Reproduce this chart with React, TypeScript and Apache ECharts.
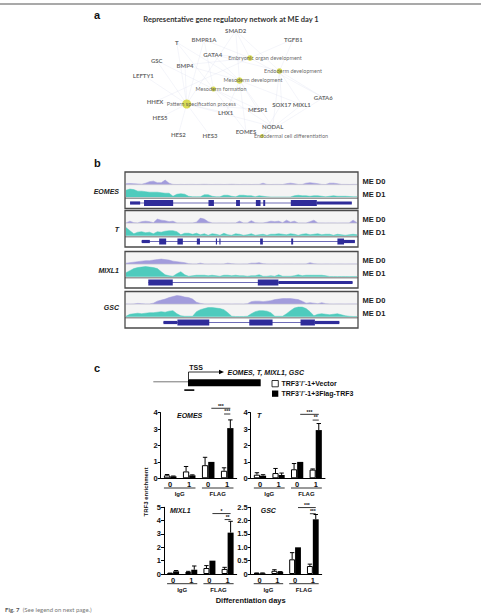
import React, { useEffect, useRef } from "react";
import * as echarts from "echarts";

const ARIAL = "'Liberation Sans', Arial, sans-serif";
const SOFT = "Lato, 'Open Sans', sans-serif";

// ---------- Panel a: gene regulatory network ----------
const networkTitle = "Representative gene regulatory network at ME day 1";
const genes = ["SMAD2", "BMPR1A", "T", "TGFB1", "GATA4", "GSC", "BMP4", "LEFTY1", "HHEX", "GATA6", "SOX17", "MIXL1", "MESP1", "LHX1", "HES5", "NODAL", "HES2", "HES3", "EOMES"];
const geneLayout = [[235.7, 30.7], [204, 39.7], [176.7, 42.3], [293.3, 39], [212.7, 54.3], [156.7, 60.7], [185, 65], [143.3, 75], [155, 101.7], [323.3, 97.7], [281.7, 104], [301.7, 104.7], [257.7, 109.3], [225.7, 112.7], [160, 117.7], [272.7, 126.7], [178.3, 134.7], [210, 135.7], [246, 131.5]];
const terms = ["Embryonic organ development", "Endoderm development", "Mesoderm development", "Mesoderm formation", "Pattern specification process", "Endodermal cell differentiation"];
const termLabelLayout = [[265, 58.3], [293, 70.7], [253, 80.3], [221, 89.3], [201.3, 103.7], [291, 135.7]];
const termHubLayout = [[250, 58], [279.5, 71], [239.5, 80.5], [213.5, 89], [186.7, 104], [262, 136]];
const termGeneCount = [7, 7, 9, 6, 14, 4];
const networkEdges: [string, number][] = [
  ["SMAD2", 0], ["SMAD2", 1], ["SMAD2", 2], ["SMAD2", 4],
  ["BMPR1A", 0], ["BMPR1A", 3], ["BMPR1A", 4],
  ["T", 2], ["T", 3], ["T", 4],
  ["TGFB1", 0], ["TGFB1", 1],
  ["GATA4", 0], ["GATA4", 1], ["GATA4", 2],
  ["GSC", 3], ["GSC", 4],
  ["BMP4", 0], ["BMP4", 2], ["BMP4", 4],
  ["LEFTY1", 4], ["HHEX", 0], ["HHEX", 4],
  ["GATA6", 0], ["GATA6", 1], ["GATA6", 5],
  ["SOX17", 1], ["SOX17", 5],
  ["MIXL1", 1], ["MIXL1", 2], ["MIXL1", 5],
  ["MESP1", 2], ["MESP1", 3], ["MESP1", 4],
  ["LHX1", 2], ["LHX1", 4],
  ["HES5", 4], ["NODAL", 1], ["NODAL", 2], ["NODAL", 3], ["NODAL", 4],
  ["HES2", 4], ["HES3", 4],
  ["EOMES", 2], ["EOMES", 3], ["EOMES", 5],
];

// ---------- Panel b: coverage tracks (60 bins across each locus) ----------
const trackGenes = ["EOMES", "T", "MIXL1", "GSC"];
const eomesD0 = [1, 1.2, 1, 0.8, 0.5, 1.5, 3, 3.5, 2, 2, 4.5, 1.5, 0.3, 0.2, 0.3, 0.2, 0.3, 0.3, 0.2, 0.3, 0.4, 0.3, 0.2, 0.3, 0.3, 0.2, 0.3, 0.4, 0.3, 0.2, 0.3, 0.3, 0.2, 0.3, 0.3, 1.5, 0.3, 0.2, 0.3, 0.3, 0.2, 1, 1.5, 1, 0.3, 0.3, 1.5, 2, 1.5, 1, 0.3, 0.2, 1.5, 1.5, 1, 0.3, 0.3, 0.2, 0.3, 0.3];
const eomesD1 = [7, 8, 7.5, 6, 6, 5.5, 5, 5, 5, 4.5, 4, 4, 1, 3, 3.5, 3, 1, 0.5, 0.5, 0.5, 2.5, 2.5, 1, 0.5, 0.5, 2, 2, 1, 0.5, 2, 2, 1.5, 1.5, 0.5, 1.5, 1, 0.5, 0.3, 0.3, 0.3, 0.3, 0.3, 0.3, 1.5, 2, 1.5, 1.5, 1, 1.5, 1.5, 1, 0.5, 1, 1.5, 1, 1, 1, 0.8, 0.5, 0.5];
const tD0 = [0.3, 2, 0.5, 0.3, 1.5, 2, 1.5, 0.5, 4, 3, 2.5, 1.5, 2, 0.3, 0.3, 0.2, 0.3, 0.3, 1, 5, 4, 1.5, 0.3, 0.2, 0.3, 0.3, 0.2, 0.3, 0.3, 2, 0.3, 0.3, 2.5, 0.5, 0.3, 0.3, 1, 2, 1.5, 2, 0.5, 3, 1, 2, 0.3, 0.3, 0.2, 1.5, 3, 0.3, 0.3, 0.2, 0.3, 0.3, 0.2, 0.3, 0.3, 0.3, 3, 0.5];
const tD1 = [8, 5, 2, 3.5, 4, 3, 3.5, 2, 4, 3.5, 4.5, 5, 5, 4, 1, 2.5, 2.5, 1.5, 2.5, 1, 2, 0.5, 2, 1.5, 0.5, 2.5, 1, 0.5, 2, 1.5, 0.5, 1, 2, 0.5, 1, 1.5, 0.5, 1.5, 1.5, 2, 1.5, 1, 2, 1.5, 0.5, 1.5, 2, 1, 1.5, 2, 1, 1.5, 1.5, 0.5, 1.5, 1, 0.5, 1, 1.5, 1];
const mixl1D0 = [1, 1.5, 2, 2.5, 3, 3.5, 3.5, 4, 4.5, 5, 4.5, 4, 3, 2.5, 2, 1.5, 0.5, 0.3, 0.3, 1, 0.3, 0.2, 0.3, 0.3, 0.2, 0.3, 1, 0.5, 0.3, 0.2, 0.3, 0.3, 1, 1, 1.5, 0.5, 0.3, 0.2, 0.3, 0.3, 0.2, 0.3, 0.3, 0.2, 0.3, 0.3, 0.3, 1.5, 0.5, 0.3, 0.2, 0.3, 0.3, 0.2, 0.3, 0.3, 0.2, 0.3, 0.3, 0.3];
const mixl1D1 = [4, 6, 8, 9, 9.5, 10, 9.5, 9, 8, 5, 2, 1, 0.5, 3, 5, 2, 0.5, 1, 1.5, 1.5, 1.5, 1, 1.5, 1, 0.5, 1.5, 1.5, 1, 1.5, 1, 1, 0.5, 1, 1, 2, 0.5, 0.5, 1, 0.5, 2, 0.5, 0.5, 0.5, 1, 2, 1, 1.5, 1.5, 1.5, 1.5, 1.5, 1, 0.3, 0.3, 0.2, 0.3, 0.3, 0.2, 0.3, 0.3];
const gscD0 = [0.3, 0.2, 0.3, 0.8, 0.5, 0.3, 0.3, 1, 3, 4, 5, 6.5, 7.5, 8.5, 8, 7, 6.5, 5, 2, 0.8, 0.3, 0.2, 0.3, 0.3, 0.2, 0.3, 0.3, 0.2, 0.3, 0.3, 0.2, 0.5, 2.5, 3, 3, 2.5, 3, 3.5, 4.5, 5, 5.5, 5.5, 5.5, 5, 4.5, 3, 1, 1.5, 1, 0.5, 1.5, 0.5, 0.3, 0.2, 0.3, 0.3, 0.2, 0.3, 0.3, 0.3];
const gscD1 = [0.5, 2.5, 3, 3.5, 3, 3.5, 4, 4, 4.5, 5, 4.5, 5.5, 6, 3, 1, 0.5, 0.5, 0.5, 5, 7, 8, 9, 9, 8.5, 8, 7, 4, 0.5, 0.3, 0.3, 0.3, 0.5, 3, 5, 6, 6, 5.5, 4, 0.5, 0.5, 0.5, 3, 6, 8.5, 9.5, 9.5, 8, 5, 1, 2.5, 3, 2.5, 2, 2.5, 3, 2, 1, 0.5, 0.3, 0.3];

// Gene models in bin units: [start, end, kind] (0 = intron span, 1 = UTR, 2 = coding exon)
const eomesModel = [[1.3, 58.4, 0], [1.3, 3.9, 1], [4.9, 12.4, 2], [21.5, 22.9, 2], [28.6, 29.6, 2], [33.7, 34.9, 2], [35.6, 36.1, 2], [42.7, 49.4, 2], [49.4, 58.4, 1]];
const tModel = [[4.3, 59.2, 0], [4.3, 6.4, 1], [8.8, 10.6, 2], [13.5, 14.9, 2], [18.5, 19.3, 2], [23.4, 23.7, 2], [24.3, 24.6, 2], [34.8, 35.5, 2], [42.8, 43.3, 2], [54.7, 56.4, 2], [56.4, 59.2, 1]];
const mixl1Model = [[6.0, 58.6, 0], [6.0, 12.3, 2], [34.2, 39.5, 2], [39.5, 58.6, 1]];
const gscModel = [[9.9, 55.2, 0], [9.9, 13.5, 1], [13.5, 21.7, 2], [32.0, 38.0, 2], [45.2, 48.9, 2], [48.9, 55.2, 1]];

// ---------- Panel c: ChIP-qPCR ----------
const dayLabels = ["0", "1", "0", "1"];
const antibodyGroups = ["IgG", "FLAG"];
const eomesVector = [0.18, 0.42, 0.8, 0.46];
const eomesVectorErr = [0.05, 0.3, 0.48, 0.18];
const eomesFlag = [0.12, 0.18, 1.0, 3.06];
const eomesFlagErr = [0.02, 0.03, 0, 0.5];
const tVector = [0.22, 0.32, 0.55, 0.53];
const tVectorErr = [0.12, 0.28, 0.35, 0.04];
const tFlag = [0.16, 0.2, 1.0, 2.94];
const tFlagErr = [0.06, 0.12, 0, 0.4];
const mixl1Vector = [0.05, 0.15, 0.45, 0.38];
const mixl1VectorErr = [0.02, 0.05, 0.18, 0.12];
const mixl1Flag = [0.2, 0.32, 1.0, 3.1];
const mixl1FlagErr = [0.06, 0.28, 0, 0.85];
const gscVector = [0.03, 0.12, 0.55, 0.3];
const gscVectorErr = [0.01, 0.04, 0.25, 0.07];
const gscFlag = [0.03, 0.08, 1.0, 2.05];
const gscFlagErr = [0.01, 0.01, 0, 0.18];
// significance brackets: [categoryA, barA, categoryB, barB, height]
const eomesSig = [[2, 1, 3, 1, 4.27], [3, 0, 3, 1, 3.92]];
const tSig = [[2, 1, 3, 1, 3.9], [3, 0, 3, 1, 3.55]];
const mixl1Sig = [[2, 1, 3, 1, 4.53], [3, 0, 3, 1, 4.08]];
const gscSig = [[2, 1, 3, 1, 2.49], [3, 0, 3, 1, 2.26]];
const eomesStars = ["***", "***"];
const tStars = ["***", "**"];
const mixl1Stars = ["*", "**"];
const gscStars = ["***", "***"];
const axisMax = [4, 4, 5, 2.5];
const axisStep = [1, 1, 1, 0.5];

const NAVY = "#2f2c9a";
const D0_COLOR = "#a29cdc";
const D1_COLOR = "#4fcbbd";
const INK = "#111";

function buildOption() {
  const grids: any[] = [];
  const xAxes: any[] = [];
  const yAxes: any[] = [];
  const series: any[] = [];
  const graphics: any[] = [];

  const addGrid = (g: any, x: any, y: any) => {
    const i = grids.length;
    grids.push({ ...g, containLabel: false });
    xAxes.push({ ...x, gridIndex: i });
    yAxes.push({ ...y, gridIndex: i });
    return i;
  };

  // ----- network -----
  const gn = addGrid({ left: 0, top: 0, width: 481, height: 150 },
    { type: "value", min: 0, max: 481, show: false },
    { type: "value", min: 0, max: 150, inverse: true, show: false });
  const geneIndex: Record<string, number> = {};
  genes.forEach((g, i) => (geneIndex[g] = i));
  series.push({
    type: "lines", coordinateSystem: "cartesian2d", xAxisIndex: gn, yAxisIndex: gn, silent: true,
    lineStyle: { color: "#cdd2e8", width: 0.5, opacity: 0.45 },
    data: networkEdges.map(([g, t]) => ({ coords: [geneLayout[geneIndex[g]], termHubLayout[t]] })),
  });
  series.push({
    type: "scatter", xAxisIndex: gn, yAxisIndex: gn, silent: true,
    itemStyle: { color: "#d3d63a", opacity: 0.85 },
    data: termHubLayout.map((p, i) => ({ value: p, symbolSize: 2 + termGeneCount[i] * 0.5 })),
  });
  series.push({
    type: "scatter", xAxisIndex: gn, yAxisIndex: gn, silent: true, symbolSize: 0,
    label: { show: true, position: "inside", formatter: "{b}", color: "#444", fontFamily: SOFT, fontSize: 5.5 },
    data: terms.map((t, i) => ({ name: t, value: termLabelLayout[i] })),
  });
  series.push({
    type: "scatter", xAxisIndex: gn, yAxisIndex: gn, silent: true, symbolSize: 0,
    label: { show: true, position: "inside", formatter: "{b}", color: "#444", fontFamily: SOFT, fontWeight: "bold", fontSize: 6 },
    data: genes.map((g, i) => ({ name: g, value: geneLayout[i] })),
  });

  // ----- coverage tracks -----
  const boxTops = [172, 210.5, 251.5, 291.5];
  const geneLabelY = [191, 229, 270, 307];
  const d0Tracks = [eomesD0, tD0, mixl1D0, gscD0];
  const d1Tracks = [eomesD1, tD1, mixl1D1, gscD1];
  const models = [eomesModel, tModel, mixl1Model, gscModel];
  const bins = eomesD0.map((_, i) => String(i));
  boxTops.forEach((top, k) => {
    graphics.push({ type: "rect", z: -5, shape: { x: 125, y: top, width: 233, height: 26.5 }, style: { fill: "#f4f4f4" } });
    graphics.push({ type: "line", z: 5, shape: { x1: 125, y1: top + 12.7, x2: 358, y2: top + 12.7 }, style: { stroke: "#cfcfcf", lineWidth: 0.6 } });
    graphics.push({ type: "line", z: 5, shape: { x1: 125, y1: top + 26.3, x2: 358, y2: top + 26.3 }, style: { stroke: "#9c9c9c", lineWidth: 1.6 } });
    graphics.push({ type: "rect", z: 6, shape: { x: 125, y: top, width: 233, height: 36.5 }, style: { fill: "none", stroke: "#4a4a4a", lineWidth: 1.3 } });
    graphics.push({ type: "text", style: { x: 119, y: geneLabelY[k], text: trackGenes[k], align: "right", verticalAlign: "middle", font: `italic bold 7px ${ARIAL}`, fill: "#222" } });
    graphics.push({ type: "text", style: { x: 362.5, y: top + 9.2, text: "ME D0", verticalAlign: "middle", font: `bold 7.5px ${ARIAL}`, fill: "#222" } });
    graphics.push({ type: "text", style: { x: 362.5, y: top + 22, text: "ME D1", verticalAlign: "middle", font: `bold 7.5px ${ARIAL}`, fill: "#222" } });

    const lanes: [number[], number, number, number, string][] = [
      [d0Tracks[k], top + 2.5, 10.2, 10, D0_COLOR],
      [d1Tracks[k], top + 13, 12.3, 12, D1_COLOR],
    ];
    lanes.forEach(([vals, gTop, gH, max, color]) => {
      const gi = addGrid({ left: 126, width: 231, top: gTop, height: gH },
        { type: "category", data: bins, boundaryGap: false, show: false },
        { type: "value", min: 0, max, show: false });
      series.push({
        type: "line", xAxisIndex: gi, yAxisIndex: gi, data: vals, symbol: "none", silent: true,
        lineStyle: { color, width: 0.5 }, areaStyle: { color, opacity: 1 },
      });
    });
    const mg = addGrid({ left: 125, width: 233, top: top + 27.5, height: 7 },
      { type: "value", min: 0, max: 60, show: false },
      { type: "value", min: -1, max: 1, show: false });
    series.push({
      type: "custom", xAxisIndex: mg, yAxisIndex: mg, silent: true, clip: false, data: models[k],
      itemStyle: { color: NAVY },
      renderItem: (_p: any, api: any) => {
        const a = api.coord([api.value(0), 0]);
        const b = api.coord([api.value(1), 0]);
        const kind = api.value(2);
        if (kind === 0) {
          return { type: "line", shape: { x1: a[0], y1: a[1], x2: b[0], y2: b[1] }, style: { stroke: NAVY, lineWidth: 0.7 } };
        }
        const h = kind === 2 ? 6 : 3.2;
        return { type: "rect", shape: { x: a[0], y: a[1] - h / 2, width: b[0] - a[0], height: h }, style: { fill: NAVY } };
      },
    });
  });

  // ----- ChIP-qPCR bar charts -----
  const boxes = [
    { left: 160.7, top: 412.7, width: 76, height: 65.6 },
    { left: 250.7, top: 412.7, width: 74.3, height: 65.6 },
    { left: 164, top: 507.3, width: 72.7, height: 66.7 },
    { left: 250.7, top: 507.3, width: 71, height: 66.7 },
  ];
  const chartNames = ["EOMES", "T", "MIXL1", "GSC"];
  const nameLeft = [177, 257, 170, 260.7];
  const vectors = [eomesVector, tVector, mixl1Vector, gscVector];
  const vectorErrs = [eomesVectorErr, tVectorErr, mixl1VectorErr, gscVectorErr];
  const flags = [eomesFlag, tFlag, mixl1Flag, gscFlag];
  const flagErrs = [eomesFlagErr, tFlagErr, mixl1FlagErr, gscFlagErr];
  const sigs = [eomesSig, tSig, mixl1Sig, gscSig];
  const stars = [eomesStars, tStars, mixl1Stars, gscStars];
  const half = 0.165;

  boxes.forEach((box, k) => {
    const gi = addGrid(box,
      {
        type: "category", data: dayLabels,
        axisLine: { lineStyle: { color: "#000", width: 1 } }, axisTick: { show: false },
        axisLabel: { color: INK, fontFamily: ARIAL, fontWeight: "bold", fontSize: 7.5, margin: 2 },
      },
      {
        type: "value", min: 0, max: axisMax[k], interval: axisStep[k],
        axisLine: { show: true, lineStyle: { color: "#000", width: 1 } },
        axisTick: { show: true, length: 3, lineStyle: { color: "#000" } },
        splitLine: { show: false },
        axisLabel: {
          color: INK, fontFamily: ARIAL, fontWeight: "bold", fontSize: 7.5, margin: 3,
          formatter: (v: number) => (axisStep[k] < 1 && v !== 0 ? v.toFixed(1) : String(v)),
        },
      });
    series.push({
      type: "bar", xAxisIndex: gi, yAxisIndex: gi, data: vectors[k], barWidth: "33%", barGap: "0%", silent: true,
      itemStyle: { color: "#fff", borderColor: "#000", borderWidth: 1 },
    });
    series.push({
      type: "bar", xAxisIndex: gi, yAxisIndex: gi, data: flags[k], barWidth: "33%", barGap: "0%", silent: true,
      itemStyle: { color: "#000" },
    });
    const errData: number[][] = [];
    vectors[k].forEach((v, i) => errData.push([i, v, vectorErrs[k][i], 0]));
    flags[k].forEach((v, i) => errData.push([i, v, flagErrs[k][i], 1]));
    series.push({
      type: "custom", xAxisIndex: gi, yAxisIndex: gi, silent: true, clip: false, z: 5, data: errData,
      itemStyle: { color: "#000" },
      renderItem: (_p: any, api: any) => {
        const cat = api.value(0), v = api.value(1), e = api.value(2), side = api.value(3);
        if (!e) return { type: "group", children: [] };
        const band = api.size([1, 0])[0];
        const p0 = api.coord([cat, v]);
        const p1 = api.coord([cat, v + e]);
        const x = p0[0] + (side ? 1 : -1) * band * half;
        return {
          type: "group", children: [
            { type: "line", shape: { x1: x, y1: p0[1], x2: x, y2: p1[1] }, style: { stroke: "#000", lineWidth: 1 } },
            { type: "line", shape: { x1: x - 2.2, y1: p1[1], x2: x + 2.2, y2: p1[1] }, style: { stroke: "#000", lineWidth: 1 } },
          ],
        };
      },
    });
    // antibody group underlines
    series.push({
      type: "custom", xAxisIndex: gi, yAxisIndex: gi, silent: true, clip: false, data: [[0, 1], [2, 3]],
      itemStyle: { color: INK },
      renderItem: (p: any, api: any) => {
        const band = api.size([1, 0])[0];
        const a = api.coord([api.value(0), 0]);
        const b = api.coord([api.value(1), 0]);
        const x1 = a[0] - band * 0.33, x2 = b[0] + band * 0.33;
        return {
          type: "group", children: [
            { type: "line", shape: { x1, y1: a[1] + 9.7, x2, y2: a[1] + 9.7 }, style: { stroke: "#000", lineWidth: 0.8 } },
            { type: "text", style: { x: (x1 + x2) / 2, y: a[1] + 16, text: antibodyGroups[p.dataIndex], align: "center", verticalAlign: "middle", font: `bold 6px ${ARIAL}`, fill: INK } },
          ],
        };
      },
    });
    // significance brackets
    series.push({
      type: "custom", xAxisIndex: gi, yAxisIndex: gi, silent: true, clip: false, data: sigs[k],
      itemStyle: { color: INK },
      renderItem: (p: any, api: any) => {
        const band = api.size([1, 0])[0];
        const h = api.value(4);
        const a = api.coord([api.value(0), h]);
        const b = api.coord([api.value(2), h]);
        const x1 = a[0] + (api.value(1) ? 1 : -1) * band * half;
        const x2 = b[0] + (api.value(3) ? 1 : -1) * band * half;
        return {
          type: "group", children: [
            { type: "line", shape: { x1, y1: a[1], x2, y2: a[1] }, style: { stroke: "#000", lineWidth: 0.8 } },
            { type: "text", style: { x: (x1 + x2) / 2, y: a[1] - 2.6, text: stars[k][p.dataIndex], align: "center", verticalAlign: "middle", font: `bold 5px ${ARIAL}`, fill: INK } },
          ],
        };
      },
    });
    graphics.push({ type: "text", style: { x: nameLeft[k], y: box.top + 3, text: chartNames[k], verticalAlign: "middle", font: `italic bold 7px ${ARIAL}`, fill: INK } });
  });

  // ----- static annotation -----
  graphics.push(
    { type: "line", shape: { x1: 0, y1: 4, x2: 481, y2: 4 }, style: { stroke: "#555", lineWidth: 1.2 } },
    { type: "text", style: { x: 94, y: 15, text: "a", verticalAlign: "middle", font: `bold 11px ${ARIAL}`, fill: INK } },
    { type: "text", style: { x: 231, y: 19, text: networkTitle, align: "center", verticalAlign: "middle", font: `bold 7.5px ${SOFT}`, fill: "#333" } },
    { type: "text", style: { x: 94, y: 163, text: "b", verticalAlign: "middle", font: `bold 11px ${ARIAL}`, fill: INK } },
    { type: "text", style: { x: 94, y: 367.5, text: "c", verticalAlign: "middle", font: `bold 11px ${ARIAL}`, fill: INK } },
    // promoter diagram
    { type: "line", shape: { x1: 153.3, y1: 381.8, x2: 188, y2: 381.8 }, style: { stroke: "#777", lineWidth: 1 } },
    { type: "rect", shape: { x: 188, y: 379.3, width: 72.7, height: 7 }, style: { fill: "#000" } },
    { type: "polyline", shape: { points: [[188.5, 379.3], [188.5, 372], [220, 372]] }, style: { stroke: "#000", lineWidth: 0.8, fill: "none" } },
    { type: "polygon", shape: { points: [[219, 369.8], [224, 372], [219, 374.2]] }, style: { fill: "#000" } },
    { type: "text", style: { x: 196, y: 367.3, text: "TSS", align: "center", verticalAlign: "middle", font: `bold 7px ${ARIAL}`, fill: INK } },
    { type: "text", style: { x: 227.5, y: 372.5, text: "EOMES, T, MIXL1, GSC", verticalAlign: "middle", font: `italic bold 7px ${ARIAL}`, fill: INK } },
    { type: "rect", shape: { x: 184.3, y: 389.3, width: 10, height: 1.6 }, style: { fill: "#000" } },
    // legend
    { type: "rect", shape: { x: 272, y: 380.5, width: 6.3, height: 6.3 }, style: { fill: "#fff", stroke: "#000", lineWidth: 0.8 } },
    { type: "text", style: { x: 281.5, y: 383.8, text: "TRF3\u207B/\u207B-1+Vector", verticalAlign: "middle", font: `bold 7px ${ARIAL}`, fill: INK } },
    { type: "rect", shape: { x: 272, y: 390.5, width: 6.3, height: 6.3 }, style: { fill: "#000" } },
    { type: "text", style: { x: 281.5, y: 393.8, text: "TRF3\u207B/\u207B-1+3Flag-TRF3", verticalAlign: "middle", font: `bold 7px ${ARIAL}`, fill: INK } },
    // shared axis titles
    { type: "text", rotation: Math.PI / 2, x: 146, y: 492, style: { x: 0, y: 0, text: "TRF3 enrichment", align: "center", verticalAlign: "middle", font: `bold 6px ${ARIAL}`, fill: INK } },
    { type: "text", style: { x: 250.7, y: 600, text: "Differentiation days", align: "center", verticalAlign: "middle", font: `bold 7.5px ${ARIAL}`, fill: INK } },
    {
      type: "text", style: {
        x: 5, y: 609.5, verticalAlign: "middle",
        text: "{b|Fig. 7} {n|(See legend on next page.)}",
        rich: { b: { font: `bold 6px ${SOFT}`, fill: "#555" }, n: { font: `6px ${SOFT}`, fill: "#777" } },
      },
    },
  );

  return {
    animation: false,
    backgroundColor: "#fff",
    textStyle: { fontFamily: ARIAL },
    grid: grids,
    xAxis: xAxes,
    yAxis: yAxes,
    series,
    graphic: { elements: graphics },
  };
}

export default function App() {
  const ref = useRef<HTMLDivElement>(null);
  useEffect(() => {
    const chart = echarts.init(ref.current!, null, { renderer: "svg" });
    chart.setOption(buildOption() as any);
    return () => chart.dispose();
  }, []);
  return <div ref={ref} style={{ position: "fixed", left: 0, top: 0, width: 481, height: 615, background: "#fff" }} />;
}
